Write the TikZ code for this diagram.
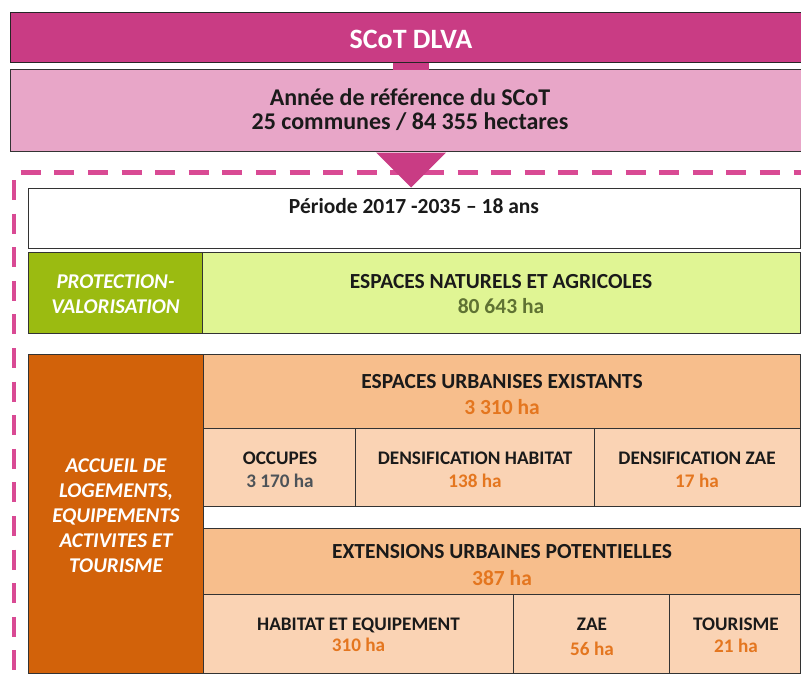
\documentclass[tikz,border=0pt]{standalone}
\usepackage{fontspec}
\setmainfont{Carlito}
\definecolor{mag}{HTML}{C93C84}
\definecolor{pinkbox}{HTML}{E8A6C8}
\definecolor{dashmag}{HTML}{D94A94}
\definecolor{greendark}{HTML}{9BBB11}
\definecolor{greenlight}{HTML}{E0F594}
\definecolor{orangedark}{HTML}{D2620A}
\definecolor{orangehead}{HTML}{F7BE8C}
\definecolor{orangelight}{HTML}{FAD3B4}
\definecolor{numorange}{HTML}{E4761F}
\definecolor{numgray}{HTML}{4D5358}
\definecolor{numolive}{HTML}{5F7233}
\definecolor{textdark}{HTML}{1A1A1A}
\begin{document}
\begin{tikzpicture}[x=1pt,y=-1pt,
  cell/.style={draw=black!80, line width=1pt, anchor=north west, inner sep=0pt, outer sep=0pt},
  dashline/.style={draw=dashmag, line width=4.5pt, dash pattern=on 20pt off 13.6pt},
  base/.style={anchor=base, inner sep=0pt, font=\bfseries},
  big/.style={base, font=\bfseries\fontsize{24}{28}\selectfont, text=textdark},
  head/.style={base, font=\bfseries\fontsize{21.5}{25}\selectfont, text=textdark},
  sub/.style={base, font=\bfseries\fontsize{19.2}{22}\selectfont, text=textdark},
  side/.style={base, font=\bfseries\itshape\fontsize{21}{25}\selectfont, text=white},
]
\useasboundingbox (0,0) rectangle (801,680);

% top boxes
\node[cell, draw=black!85, fill=mag, minimum width=802, minimum height=50] (title) at (10,12.5) {};
\node[cell, fill=pinkbox, minimum width=802, minimum height=82] (ref) at (10,69.5) {};
\coordinate (cl) at (393,62.5);
\coordinate (cr) at (429,69.5);
\fill[mag] (cl) rectangle (cr);
\node[base, font=\bfseries\fontsize{28}{32}\selectfont, text=white] (titletxt) at (411,48) {SCoT DLVA};
\node[big] (ref1) at (410,105.5) {Année de référence du SCoT};
\node[big] (ref2) at (410,129.5) {25 communes / 84 355 hectares};

% dashed frame
\coordinate (dtl) at (20.7,172.5);
\coordinate (dtr) at (830,172.5);
\coordinate (dlt) at (14,180);
\coordinate (dlb) at (14,700);
\draw[dashline] (dtl) -- (dtr);
\draw[dashline] (dlt) -- (dlb);

% period
\node[cell, fill=white, minimum width=772, minimum height=60] (period) at (28,188) {};
\node[head] (periodtxt) at (414,213.5) {Période 2017 -2035 -- 18 ans};

% arrow
\coordinate (al) at (376,152.5);
\coordinate (ar) at (446,152.5);
\coordinate (atip) at (411,187.5);
\fill[mag] (al) -- (ar) -- (atip) -- cycle;

% green row
\node[cell, fill=greendark, minimum width=173.5, minimum height=80.5] (gl) at (28.5,252.5) {};
\node[cell, fill=greenlight, minimum width=598, minimum height=80.5] (gr) at (202,252.5) {};
\node[side] (gl1) at (115.5,288) {PROTECTION-};
\node[side] (gl2) at (115.5,313) {VALORISATION};
\node[head] (gr1) at (501,288) {ESPACES NATURELS ET AGRICOLES};
\node[head, text=numolive] (gr2) at (501,313) {80 643 ha};

% orange block
\node[cell, fill=orangedark, minimum width=174.5, minimum height=319] (ol) at (28.5,354) {};
\node[cell, fill=orangehead, minimum width=597, minimum height=74] (urb) at (203,354) {};
\node[cell, fill=orangelight, minimum width=152, minimum height=78] (occ) at (203,428) {};
\node[cell, fill=orangelight, minimum width=239, minimum height=78] (dh) at (355,428) {};
\node[cell, fill=orangelight, minimum width=206, minimum height=78] (dz) at (594,428) {};
\node[cell, fill=orangehead, minimum width=597, minimum height=66] (ext) at (203,528) {};
\node[cell, fill=orangelight, minimum width=310, minimum height=79] (hab) at (203,594) {};
\node[cell, fill=orangelight, minimum width=156, minimum height=79] (zae) at (513,594) {};
\node[cell, fill=orangelight, minimum width=131, minimum height=79] (tour) at (669,594) {};

\node[side] (ol1) at (116,472) {ACCUEIL DE};
\node[side] (ol2) at (116,497) {LOGEMENTS,};
\node[side] (ol3) at (116,522) {EQUIPEMENTS};
\node[side] (ol4) at (116,547) {ACTIVITES ET};
\node[side] (ol5) at (116,572) {TOURISME};

\node[head] (urb1) at (502,388) {ESPACES URBANISES EXISTANTS};
\node[head, text=numorange] (urb2) at (502,414) {3 310 ha};
\node[sub] (occ1) at (280,464) {OCCUPES};
\node[sub, text=numgray] (occ2) at (280,487) {3 170 ha};
\node[sub] (dh1) at (475,464) {DENSIFICATION HABITAT};
\node[sub, text=numorange] (dh2) at (475,487) {138 ha};
\node[sub] (dz1) at (697,464) {DENSIFICATION ZAE};
\node[sub, text=numorange] (dz2) at (697,487) {17 ha};

\node[head] (ext1) at (502,558) {EXTENSIONS URBAINES POTENTIELLES};
\node[head, text=numorange] (ext2) at (502,585) {387 ha};
\node[sub] (hab1) at (358.5,630) {HABITAT ET EQUIPEMENT};
\node[sub, text=numorange] (hab2) at (358.5,651) {310 ha};
\node[sub] (zae1) at (592,630) {ZAE};
\node[sub, text=numorange] (zae2) at (592,655) {56 ha};
\node[sub] (tour1) at (736,630) {TOURISME};
\node[sub, text=numorange] (tour2) at (736,652) {21 ha};
\end{tikzpicture}
\end{document}
